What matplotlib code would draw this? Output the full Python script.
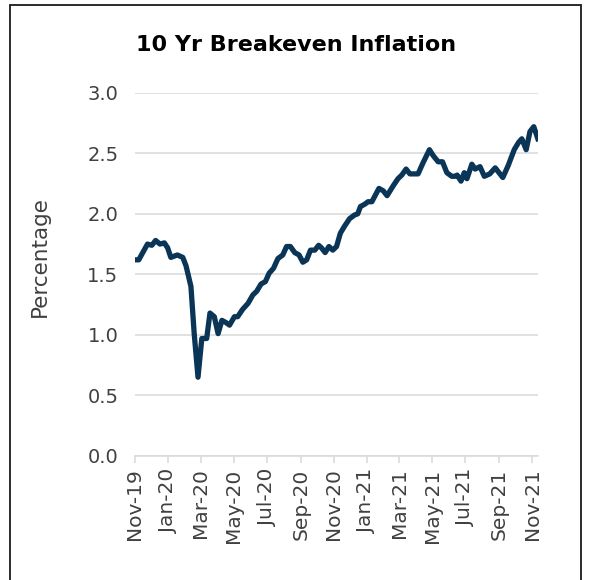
import matplotlib
matplotlib.use("Agg")
import matplotlib.pyplot as plt
import matplotlib.dates as mdates
from matplotlib.patches import Rectangle
import pandas as pd

# 10 yr breakeven inflation
dates = [
    "2019-11-01", "2019-11-08", "2019-11-24", "2019-12-02", "2019-12-09", "2019-12-17",
    "2019-12-25", "2019-12-31", "2020-01-06", "2020-01-18", "2020-01-28", "2020-02-03",
    "2020-02-12", "2020-02-18", "2020-02-25", "2020-03-03", "2020-03-12", "2020-03-18",
    "2020-03-26", "2020-04-02", "2020-04-09", "2020-04-17", "2020-04-23", "2020-05-02",
    "2020-05-08", "2020-05-17", "2020-05-27", "2020-06-05", "2020-06-12", "2020-06-20",
    "2020-06-28", "2020-07-05", "2020-07-13", "2020-07-21", "2020-07-30", "2020-08-06",
    "2020-08-13", "2020-08-21", "2020-08-29", "2020-09-05", "2020-09-12", "2020-09-19",
    "2020-09-27", "2020-10-04", "2020-10-09", "2020-10-16", "2020-10-23", "2020-10-30",
    "2020-11-06", "2020-11-13", "2020-11-21", "2020-11-30", "2020-12-09", "2020-12-15",
    "2020-12-20", "2020-12-28", "2021-01-03", "2021-01-10", "2021-01-23", "2021-01-31",
    "2021-02-07", "2021-02-18", "2021-02-27", "2021-03-06", "2021-03-14", "2021-03-21",
    "2021-03-30", "2021-04-05", "2021-04-14", "2021-04-26", "2021-05-03", "2021-05-12",
    "2021-05-20", "2021-05-28", "2021-06-06", "2021-06-12", "2021-06-16", "2021-06-23",
    "2021-06-29", "2021-07-04", "2021-07-13", "2021-07-19", "2021-07-28", "2021-08-05",
    "2021-08-15", "2021-08-25", "2021-09-01", "2021-09-08", "2021-09-18", "2021-09-29",
    "2021-10-07", "2021-10-13", "2021-10-21", "2021-10-28", "2021-11-04", "2021-11-13",
]
breakeven = [
    1.62, 1.62, 1.75, 1.74, 1.78, 1.75,
    1.76, 1.72, 1.64, 1.66, 1.64, 1.57,
    1.40, 1.01, 0.65, 0.97, 0.97, 1.18,
    1.15, 1.01, 1.12, 1.10, 1.08, 1.15,
    1.15, 1.21, 1.26, 1.33, 1.36, 1.42,
    1.44, 1.51, 1.55, 1.63, 1.66, 1.73,
    1.73, 1.68, 1.66, 1.60, 1.62, 1.70,
    1.70, 1.74, 1.72, 1.68, 1.73, 1.70,
    1.73, 1.84, 1.90, 1.96, 1.99, 2.00,
    2.06, 2.08, 2.10, 2.10, 2.21, 2.19,
    2.15, 2.23, 2.29, 2.32, 2.37, 2.33,
    2.33, 2.33, 2.42, 2.53, 2.48, 2.43,
    2.43, 2.34, 2.31, 2.31, 2.32, 2.27,
    2.34, 2.29, 2.41, 2.37, 2.39, 2.31,
    2.33, 2.38, 2.34, 2.30, 2.40, 2.53,
    2.59, 2.62, 2.53, 2.68, 2.72, 2.60,
]
tick_dates = ["2019-11-01", "2020-01-01", "2020-03-01", "2020-05-01", "2020-07-01",
              "2020-09-01", "2020-11-01", "2021-01-01", "2021-03-01", "2021-05-01",
              "2021-07-01", "2021-09-01", "2021-11-01"]
y_ticks = [0.0, 0.5, 1.0, 1.5, 2.0, 2.5, 3.0]

x = pd.to_datetime(dates)
ticks = pd.to_datetime(tick_dates)

fig = plt.figure(figsize=(5.92, 5.80), dpi=100)
ax = fig.add_axes([0.228, 0.214, 0.681, 0.626])

ax.plot(x, breakeven, color="#0b3556", linewidth=3.8, solid_joinstyle="round",
        solid_capstyle="butt", zorder=3)

ax.set_ylim(0, 3.0)
ax.set_yticks(y_ticks)
ax.set_yticklabels([f"{v:.1f}" for v in y_ticks])
ax.set_xlim(pd.Timestamp("2019-11-01"), pd.Timestamp("2021-11-12"))
ax.set_xticks(ticks)
ax.xaxis.set_major_formatter(mdates.DateFormatter("%b-%y"))

ax.grid(axis="y", color="#dcdcdc", linewidth=1.2)
ax.set_axisbelow(True)
for s in ["top", "right", "left"]:
    ax.spines[s].set_visible(False)
ax.spines["bottom"].set_color("#dcdcdc")
ax.spines["bottom"].set_linewidth(1.2)

ax.tick_params(axis="y", length=0, pad=12, labelsize=14, labelcolor="#404040")
ax.tick_params(axis="x", length=5, width=1.2, color="#dcdcdc", pad=4,
               labelsize=14.5, labelcolor="#404040", labelrotation=90)

# y label sits a bit above the axes centre in the original
fig.text(40 / 592, 1 - 257 / 580, "Percentage", rotation=90, ha="center", va="center",
         fontsize=15.5, color="#404040")
fig.text(0.5, 0.923, "10 Yr Breakeven Inflation", ha="center", va="center",
         fontsize=16, fontweight="bold", color="black")

# outer frame around the chart
fig.patches.append(Rectangle((0.017, -0.02), 0.964, 1.011, transform=fig.transFigure,
                             fill=False, edgecolor="#1a1a1a", linewidth=1.3))

fig.savefig("out.png", dpi=100)
